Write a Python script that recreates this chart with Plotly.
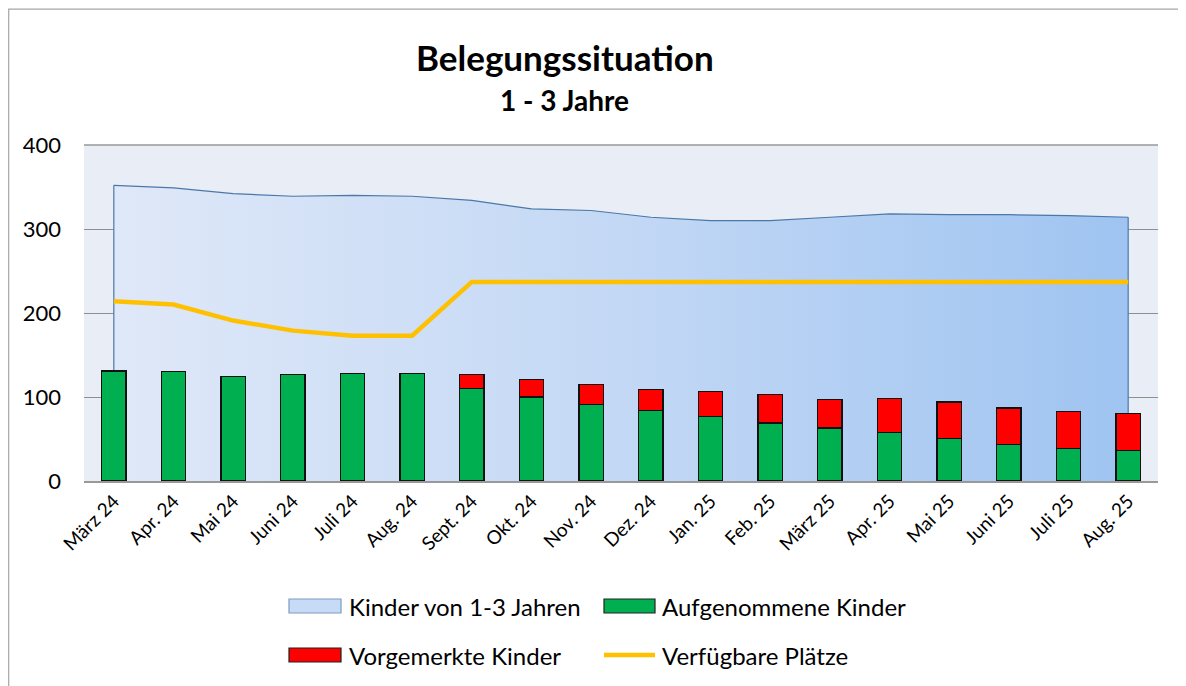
import plotly.graph_objects as go

months = ["März 24", "Apr. 24", "Mai 24", "Juni 24", "Juli 24", "Aug. 24", "Sept. 24",
          "Okt. 24", "Nov. 24", "Dez. 24", "Jan. 25", "Feb. 25", "März 25", "Apr. 25",
          "Mai 25", "Juni 25", "Juli 25", "Aug. 25"]
kinder_1_3 = [352, 349, 342, 339, 340, 339, 334, 324, 322, 314, 310, 310, 314, 318, 317, 317, 316, 314]
aufgenommen = [131, 130, 124, 127, 128, 128, 110, 100, 91, 84, 77, 69, 63, 58, 51, 43, 39, 36]
vorgemerkt = [0, 0, 0, 0, 0, 0, 17, 21, 24, 25, 30, 34, 34, 40, 43, 44, 44, 44]
verfuegbar = [214, 210, 191, 179, 173, 173, 237, 237, 237, 237, 237, 237, 237, 237, 237, 237, 237, 237]
y_ticks = [0, 100, 200, 300, 400]

FONT = "Lato"
W, H = 1186, 686
OFF = 8  # page offset of the figure (body margin)
# target plot area in screen pixels
SX0, SX1, SY0, SY1 = 84, 1158, 145, 481
ML, MT = SX0 - OFF, SY0 - OFF
MR, MB = W - (SX1 - OFF), H - (SY1 - OFF)
PW, PH = SX1 - SX0, SY1 - SY0


def px(x):
    return (x - SX0) / PW


def py(y):
    return (SY1 - y) / PH


AREA_LINE = "#4a78a8"
GREEN, RED, ORANGE = "#00b050", "#ff0000", "#ffc000"

fig = go.Figure()

# area on the base axes
fig.add_trace(go.Scatter(
    x=months, y=kinder_1_3, name="Kinder von 1-3 Jahren", mode="lines",
    line=dict(color=AREA_LINE, width=1.2), fill="tozeroy",
    fillgradient=dict(type="horizontal", colorscale=[[0, "#dfe8f8"], [0.5, "#c3d8f5"], [1, "#9fc4f1"]]),
    showlegend=False,
))
for i in (0, len(months) - 1):
    fig.add_trace(go.Scatter(x=[months[i], months[i]], y=[0, kinder_1_3[i]], mode="lines",
                             line=dict(color=AREA_LINE, width=1.2), showlegend=False, hoverinfo="skip"))

# bars and line on overlay axes (drawn above the area)
fig.add_trace(go.Bar(x=months, y=aufgenommen, name="Aufgenommene Kinder", xaxis="x2", yaxis="y2",
                     marker=dict(color=GREEN, line=dict(color="#111111", width=1.2)), showlegend=False))
fig.add_trace(go.Bar(x=months, y=vorgemerkt, name="Vorgemerkte Kinder", xaxis="x2", yaxis="y2",
                     marker=dict(color=RED, line=dict(color="#111111", width=1.2)), showlegend=False))
fig.add_trace(go.Scatter(x=months, y=verfuegbar, name="Verfügbare Plätze", mode="lines",
                         xaxis="x2", yaxis="y2",
                         line=dict(color=ORANGE, width=4.5), showlegend=False))

# legend drawn as shapes + text
LEG_FONT = dict(size=24, family=FONT, color="black")
row1, row2 = 606, 655
col1_sym, col2_sym = (289, 341), (604, 655)
col1_txt, col2_txt = 347, 660
legend_items = [
    ("Kinder von 1-3 Jahren", "rect", "#c8dbf6", "#7f9cc0", col1_sym, col1_txt, row1),
    ("Aufgenommene Kinder", "rect", GREEN, "#222222", col2_sym, col2_txt, row1),
    ("Vorgemerkte Kinder", "rect", RED, "#222222", col1_sym, col1_txt, row2),
    ("Verfügbare Plätze", "line", ORANGE, ORANGE, col2_sym, col2_txt, row2),
]
shapes = [
    dict(type="line", xref="paper", yref="paper", x0=0, x1=1, y0=1, y1=1,
         line=dict(color="#999999", width=1.5)),
    dict(type="rect", xref="paper", yref="paper", x0=px(OFF + 0.7), x1=px(1400), y0=py(900), y1=py(OFF + 1.2),
         line=dict(color="#a6a6a6", width=1.2), layer="below"),
]
annotations = []
for label, kind, fillc, linec, (sx0, sx1), tx, ry in legend_items:
    if kind == "rect":
        shapes.append(dict(type="rect", xref="paper", yref="paper", x0=px(sx0), x1=px(sx1),
                           y0=py(ry + 7), y1=py(ry - 7), fillcolor=fillc,
                           line=dict(color=linec, width=1.2)))
    else:
        shapes.append(dict(type="line", xref="paper", yref="paper", x0=px(sx0), x1=px(sx1),
                           y0=py(ry), y1=py(ry), line=dict(color=fillc, width=4.5)))
    annotations.append(dict(text=label, xref="paper", yref="paper", x=px(tx), y=py(ry),
                            xanchor="left", yanchor="middle", showarrow=False, font=LEG_FONT))

annotations.append(dict(text="<b>Belegungssituation</b>", xref="paper", yref="paper",
                        x=px(565), y=py(57), xanchor="center", yanchor="middle", showarrow=False,
                        font=dict(size=35, family=FONT, color="black")))
annotations.append(dict(text="<b>1 - 3 Jahre</b>", xref="paper", yref="paper",
                        x=px(564), y=py(100), xanchor="center", yanchor="middle", showarrow=False,
                        font=dict(size=28, family=FONT, color="black")))

fig.update_layout(
    width=W, height=H,
    margin=dict(l=ML, r=MR, t=MT, b=MB, autoexpand=False),
    paper_bgcolor="white", plot_bgcolor="#e9edf6",
    barmode="stack", bargap=0.59,
    font=dict(family=FONT, color="black"),
    showlegend=False,
    xaxis=dict(tickangle=-45, tickfont=dict(size=19), showgrid=False, showline=True,
               linecolor="#999999", linewidth=1.5, ticks="", range=[-0.5, len(months) - 0.5],
               automargin=False),
    yaxis=dict(range=[0, 400], tickvals=y_ticks, tickfont=dict(size=22), showgrid=True,
               gridcolor="#8f8f8f", gridwidth=1.2, zeroline=False, ticks="", ticklabelstandoff=22,
               automargin=False),
    xaxis2=dict(overlaying="x", matches="x", visible=False),
    yaxis2=dict(overlaying="y", range=[0, 400], visible=False),
    shapes=shapes,
    annotations=annotations,
)

fig.write_html("out.html")
